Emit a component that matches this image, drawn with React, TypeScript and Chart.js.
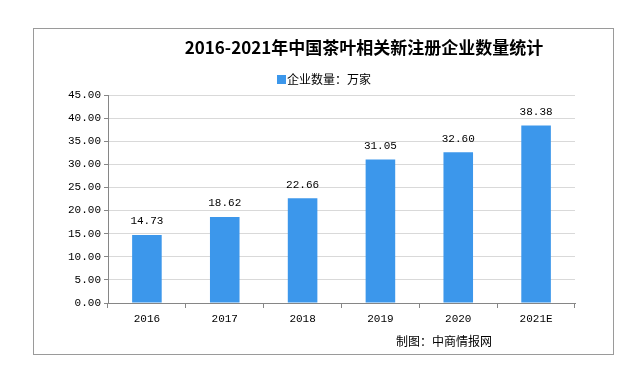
import React, { useEffect, useRef } from "react";
import { Chart, registerables } from "chart.js";

Chart.register(...registerables);

const TITLE = "2016-2021年中国茶叶相关新注册企业数量统计";
const SERIES_LABEL = "企业数量：万家";
const SOURCE = "制图：中商情报网";
const categories = ["2016", "2017", "2018", "2019", "2020", "2021E"];
const values = [14.73, 18.62, 22.66, 31.05, 32.6, 38.38];
const yMin = 0;
const yMax = 45;
const yStep = 5;

const BAR = "#3C97EB";
const CJK = "'Noto Sans CJK SC', sans-serif";
const MONO = "'Liberation Mono', 'DejaVu Sans Mono', monospace";

const decorPlugin = {
  id: "decor",
  beforeDraw(chart: any) {
    const ctx = chart.ctx;
    ctx.save();
    ctx.fillStyle = "#ffffff";
    ctx.fillRect(0, 0, chart.width, chart.height);
    ctx.strokeStyle = "#9a9a9a";
    ctx.lineWidth = 1;
    ctx.strokeRect(33.5, 28.5, 580, 326);
    ctx.restore();
  },
  afterDraw(chart: any) {
    const ctx = chart.ctx;
    ctx.save();
    // title
    ctx.fillStyle = "#000000";
    ctx.font = "bold 17px " + CJK;
    ctx.textAlign = "center";
    ctx.textBaseline = "middle";
    ctx.fillText(TITLE, 364, 48);
    // legend
    ctx.fillStyle = BAR;
    ctx.fillRect(277, 75, 9, 9);
    ctx.fillStyle = "#000000";
    ctx.font = "12px " + CJK;
    ctx.textAlign = "left";
    ctx.fillText(chart.data.datasets[0].label, 287, 79.5);
    // source
    ctx.font = "12px " + CJK;
    ctx.fillText(SOURCE, 396, 341);
    // data labels
    const meta = chart.getDatasetMeta(0);
    ctx.font = "11px " + MONO;
    ctx.textAlign = "center";
    ctx.textBaseline = "bottom";
    meta.data.forEach((bar: any, i: number) => {
      const v = chart.data.datasets[0].data[i] as number;
      ctx.fillText(v.toFixed(2), bar.x, bar.y - 8);
    });
    ctx.restore();
  },
};

export default function App() {
  const ref = useRef<HTMLCanvasElement>(null);
  useEffect(() => {
    if (!ref.current) return;
    const chart = new Chart(ref.current, {
      type: "bar",
      data: {
        labels: categories,
        datasets: [
          {
            label: SERIES_LABEL,
            data: values,
            backgroundColor: BAR,
            barPercentage: 0.38,
            categoryPercentage: 1,
          },
        ],
      },
      options: {
        responsive: false,
        animation: false,
        devicePixelRatio: 1,
        layout: { padding: { left: 48, right: 57, top: 95, bottom: 43 } },
        plugins: {
          legend: { display: false },
          title: { display: false },
          tooltip: { enabled: false },
        },
        scales: {
          x: {
            offset: true,
            grid: {
              offset: true,
              drawOnChartArea: false,
              drawTicks: true,
              tickLength: 5,
              tickColor: "#868686",
            },
            border: { color: "#868686" },
            ticks: {
              color: "#000000",
              font: { family: MONO, size: 11 },
              padding: 4,
            },
            afterFit: (s: any) => {
              s.height = 30;
            },
          },
          y: {
            min: yMin,
            max: yMax,
            grid: {
              color: "#d9d9d9",
              tickLength: 4,
              tickColor: "#868686",
            },
            border: { color: "#868686" },
            ticks: {
              stepSize: yStep,
              color: "#000000",
              font: { family: MONO, size: 11 },
              padding: 3,
              callback: (v: any) => Number(v).toFixed(2),
            },
            afterFit: (s: any) => {
              s.width = 60;
            },
          },
        },
      },
      plugins: [decorPlugin],
    });
    return () => chart.destroy();
  }, []);
  return (
    <canvas
      ref={ref}
      width={632}
      height={376}
      style={{ position: "fixed", left: 0, top: 0, display: "block" }}
    />
  );
}
